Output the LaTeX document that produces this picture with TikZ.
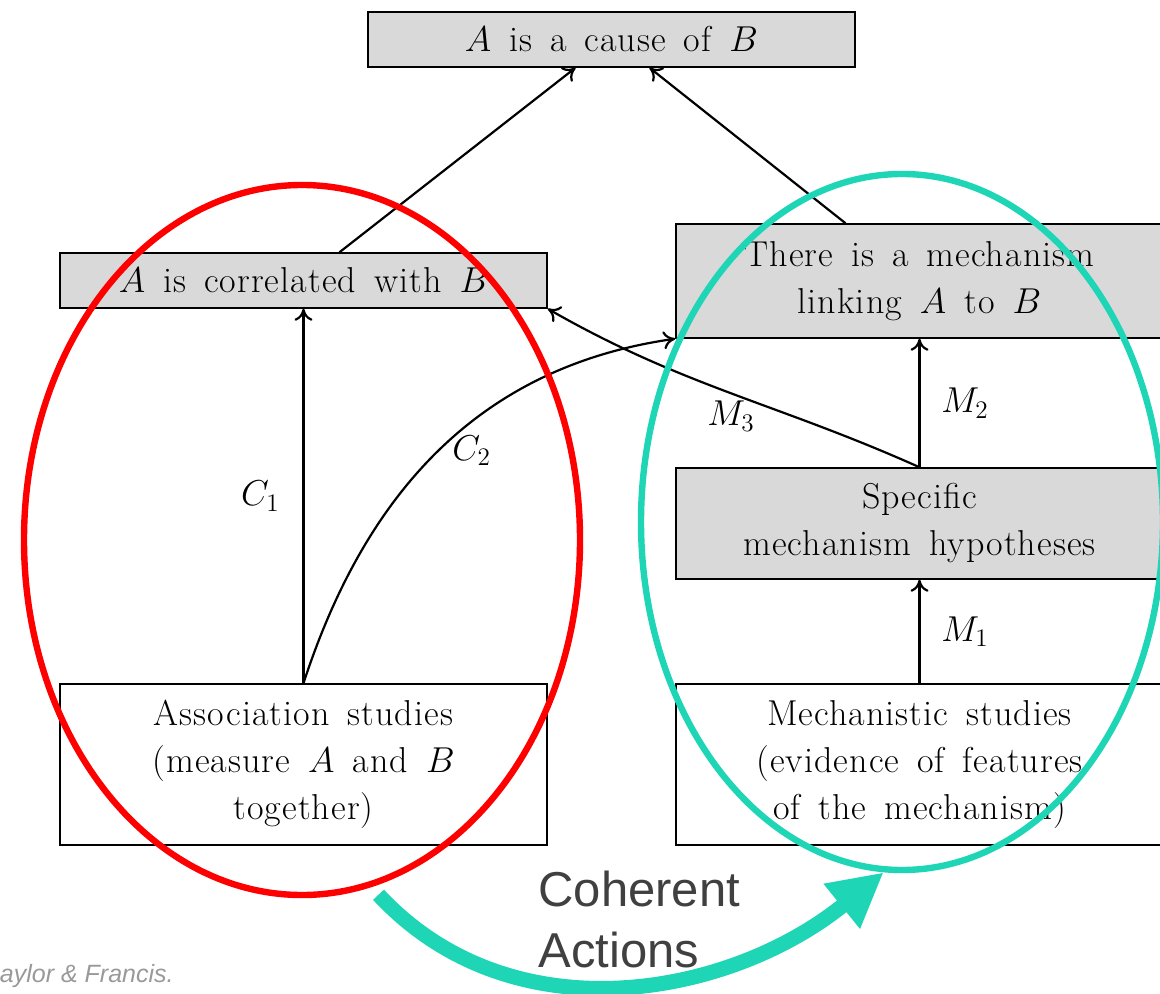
\RequirePackage{fix-cm}
\documentclass[tikz,border=0pt]{standalone}
\usepackage{fontspec}
\newfontfamily\slidefont{Liberation Sans}
\usetikzlibrary{arrows.meta,shapes.geometric}

\definecolor{ringteal}{RGB}{30,214,181}
\definecolor{boxgray}{RGB}{217,217,217}
\definecolor{labelgray}{RGB}{64,64,64}
\definecolor{creditgray}{RGB}{153,153,153}
\newfontfamily\widefont[LetterSpace=3,WordSpace=1.5]{Latin Modern Roman}
\newcommand{\boxfont}{\widefont\fontsize{18}{23.5}\selectfont}

\begin{document}
\begin{tikzpicture}[x=0.5pt, y=-0.5pt,
    claim/.style={draw, line width=0.75pt, fill=boxgray, minimum width=243.5pt, align=center, font=\boxfont},
    study/.style={claim, fill=white},
    arr/.style={-{To[length=6pt,width=9pt]}, line width=1.1pt},
    lbl/.style={font=\boxfont},
    ring/.style={draw, ellipse, line width=3.2pt, inner sep=0pt}
]
\path[use as bounding box] (0,0) rectangle (1160,994);
\clip (0,0) rectangle (1160,994);

% claims and studies
\node[claim, minimum height=27.5pt] (cause) at (611.5,39.5) {$A$ is a cause of $B$};
\node[claim, minimum height=27.5pt] (corr) at (303.5,280.5) {$A$ is correlated with $B$};
\node[claim, minimum height=57pt] (mech) at (919.5,281) {There is a mechanism\\ linking $A$ to $B$};
\node[claim, minimum height=55.5pt] (hyp) at (919.5,523.5) {Specific\\ mechanism hypotheses};
\node[study, minimum height=80.5pt] (assoc) at (303.5,764.5) {Association studies\\ (measure $A$ and $B$\\ together)};
\node[study, minimum height=80.5pt] (mstud) at (919.5,764.5) {Mechanistic studies\\ (evidence of features\\ of the mechanism)};

% evidence arrows
\draw[arr] ([xshift=18pt]corr.north) -- ([xshift=-18pt]cause.south);
\draw[arr] ([xshift=-37pt]mech.north) -- ([xshift=19pt]cause.south);
\draw[arr] (assoc.north) -- node[lbl, left=8pt] {$C_1$} (corr.south);
\draw[arr] (assoc.north) .. controls +(61.5,-189) and +(-197,28) .. node[lbl, pos=0.5, right=3pt] {$C_2$} (mech.south west);
\draw[arr] (hyp.north) .. controls +(-143,-64) and +(136,78) .. node[lbl, pos=0.5, below] {$M_3$} (corr.south east);
\draw[arr] (hyp.north) -- node[lbl, right=7pt] {$M_2$} (mech.south);
\draw[arr] (mstud.north) -- node[lbl, right=7pt] {$M_1$} (hyp.south);

% rings round the two kinds of evidence
\node[ring, red, minimum width=278pt, minimum height=355pt] (assocring) at (302,540) {};
\node[ring, ringteal, minimum width=261pt, minimum height=348pt] (mechring) at (902,522) {};

% coherent actions
\coordinate (actstart) at ([shift={(3,9)}]assocring.-78);
\draw[ringteal, line width=7.5pt, -{Triangle[length=27pt,width=27pt]}] (actstart) .. controls +(134,144) and +(-153,124) .. (mechring.-93);
\node[font=\slidefont\fontsize{24.5}{30.5}\selectfont, text=labelgray, anchor=north west, align=left, inner sep=0pt] (coherent) at (538,871) {Coherent\\Actions};
\node[font=\slidefont\itshape\fontsize{12.5}{15}\selectfont, text=creditgray, anchor=base east, inner sep=0pt] (credit) at (174,982) {aylor \& Francis.};

\end{tikzpicture}
\end{document}
